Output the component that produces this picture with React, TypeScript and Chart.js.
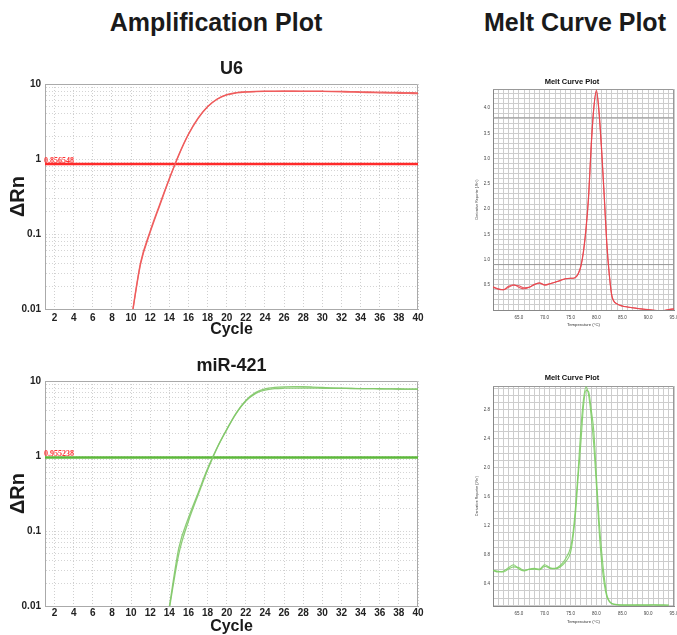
import React, { useEffect, useRef } from "react";
import { Chart, registerables } from "chart.js";

Chart.register(...registerables);

const SANS = "'Liberation Sans', Arial, Helvetica, sans-serif";

// ---------- Amplification plot data ----------
const cycles = [1, 2, 3, 4, 5, 6, 7, 8, 9, 10, 11, 12, 13, 14, 15, 16, 17, 18, 19, 20, 21, 22, 23, 24, 25, 26, 27, 28, 29, 30, 31, 32, 33, 34, 35, 36, 37, 38, 39, 40];
const ampXTicks = [2, 4, 6, 8, 10, 12, 14, 16, 18, 20, 22, 24, 26, 28, 30, 32, 34, 36, 38, 40];
const ampYLabels = [0.01, 0.1, 1, 10];

const u6RepA: (number | null)[] = [null, null, null, null, null, null, null, null, null,
  0.007, 0.042, 0.11, 0.25, 0.55, 1.15, 2.15, 3.5, 5.0, 6.3, 7.2, 7.65, 7.85, 7.95, 8.0, 8.02,
  8.03, 8.03, 8.03, 8.02, 8.0, 7.98, 7.95, 7.92, 7.87, 7.82, 7.78, 7.74, 7.7, 7.66, 7.62];
const u6RepB: (number | null)[] = [null, null, null, null, null, null, null, null, null,
  0.0068, 0.04, 0.105, 0.24, 0.54, 1.13, 2.12, 3.45, 4.95, 6.25, 7.15, 7.6, 7.82, 7.92, 7.97, 7.99,
  8.0, 8.0, 7.99, 7.98, 7.95, 7.91, 7.86, 7.8, 7.74, 7.68, 7.62, 7.57, 7.53, 7.49, 7.45];
const u6Threshold = 0.856548;

const mirRepA: (number | null)[] = [null, null, null, null, null, null, null, null, null, null, null, null, null,
  0.0098, 0.06, 0.15, 0.32, 0.68, 1.3, 2.25, 3.7, 5.4, 6.8, 7.55, 7.9, 8.02, 8.05, 8.05, 8.03,
  8.0, 7.98, 7.96, 7.94, 7.92, 7.9, 7.88, 7.85, 7.82, 7.8, 7.78];
const mirRepB: (number | null)[] = [null, null, null, null, null, null, null, null, null, null, null, null, null,
  0.0092, 0.05, 0.135, 0.3, 0.65, 1.28, 2.25, 3.75, 5.5, 7.0, 7.85, 8.2, 8.35, 8.4, 8.38, 8.3,
  8.2, 8.1, 8.02, 7.97, 7.93, 7.9, 7.88, 7.85, 7.82, 7.8, 7.78];
const mirThreshold = 0.955238;

// ---------- Melt curve data ----------
const meltTemps = [60, 61, 62, 63, 64, 65, 66, 67, 68, 69, 70, 71, 72, 73, 74, 75,
  75.5, 76, 76.5, 77, 77.5, 78, 78.5, 79, 79.5, 80, 80.5, 81, 81.5, 82, 82.5, 83,
  84, 85, 86, 87, 88, 89, 90, 91, 92, 93, 94, 95];
const meltXLabels = [65, 70, 75, 80, 85, 90, 95];

const meltU6A: (number | null)[] = [0.46, 0.42, 0.4, 0.45, 0.49, 0.48, 0.44, 0.45, 0.5, 0.54, 0.49, 0.52, 0.55, 0.58, 0.62, 0.63,
  0.63, 0.65, 0.72, 0.86, 1.15, 1.6, 2.25, 3.25, 4.0, 4.36, 3.95, 3.2, 2.3, 1.35, 0.7, 0.28,
  0.12, 0.08, 0.06, 0.045, 0.03, 0.02, 0.01, 0.0, -0.01, -0.01, 0.01, 0.02];
const meltU6B: (number | null)[] = [0.45, 0.41, 0.4, 0.47, 0.5, 0.45, 0.42, 0.45, 0.51, 0.53, 0.5, 0.52, 0.55, 0.59, 0.62, 0.63,
  0.63, 0.65, 0.73, 0.88, 1.18, 1.65, 2.3, 3.3, 4.02, 4.33, 3.9, 3.15, 2.25, 1.3, 0.68, 0.27,
  0.12, 0.08, 0.06, 0.045, 0.03, 0.015, 0.005, -0.01, -0.02, -0.01, 0.01, 0.02];
const meltU6YLabels = [0.5, 1.0, 1.5, 2.0, 2.5, 3.0, 3.5, 4.0];
const meltU6Guides = [0.9, 3.81];

const meltMirA: (number | null)[] = [0.584, 0.57, 0.56, 0.6, 0.63, 0.62, 0.585, 0.595, 0.6, 0.59, 0.64, 0.61, 0.605, 0.63, 0.7, 0.83,
  1.05, 1.4, 1.9, 2.35, 2.85, 3.07, 3.05, 2.8, 2.5, 1.88, 1.3, 0.85, 0.5, 0.25, 0.16, 0.125,
  0.11, 0.105, 0.105, 0.105, 0.106, 0.105, 0.105, 0.108, 0.105, 0.105, 0.104, null];
const meltMirB: (number | null)[] = [0.58, 0.56, 0.57, 0.62, 0.66, 0.6, 0.575, 0.6, 0.61, 0.6, 0.66, 0.62, 0.61, 0.65, 0.74, 0.9,
  1.12, 1.5, 2.0, 2.55, 2.95, 3.12, 3.0, 2.7, 2.3, 1.75, 1.15, 0.7, 0.4, 0.22, 0.15, 0.12,
  0.105, 0.1, 0.1, 0.1, 0.102, 0.1, 0.1, 0.103, 0.1, 0.1, 0.1, null];
const meltMirYLabels = [0.4, 0.8, 1.2, 1.6, 2.0, 2.4, 2.8];

// ---------- helpers ----------
function pts(xs: number[], ys: (number | null)[]) {
  return xs.map((x, i) => ({ x, y: ys[i] })).filter((p) => p.y !== null) as { x: number; y: number }[];
}
const near = (list: number[], v: number) => list.find((l) => Math.abs(l - v) < 1e-6);

type AmpSpec = {
  title: string;
  reps: (number | null)[][];
  curveColor: string;
  threshold: number;
  thresholdColor: string;
  tickPad: number;
};

function buildAmp(s: AmpSpec): any {
  const yGrid: number[] = [];
  for (let d = 0; d < ampYLabels.length - 1; d++) {
    for (let k = 1; k <= 9; k++) yGrid.push(ampYLabels[d] * k);
  }
  yGrid.push(ampYLabels[ampYLabels.length - 1]);
  const tickFont = { family: SANS, size: 10, weight: "bold" as const };
  const plugin = {
    id: "ampDecor",
    beforeDatasetsDraw(chart: any) {
      const { ctx, chartArea: a } = chart;
      ctx.save();
      ctx.strokeStyle = "#aaaaaa";
      ctx.lineWidth = 1;
      ctx.beginPath();
      ctx.moveTo(a.left, a.top + 0.5);
      ctx.lineTo(a.right - 0.5, a.top + 0.5);
      ctx.lineTo(a.right - 0.5, a.bottom);
      ctx.stroke();
      ctx.restore();
    },
    afterDatasetsDraw(chart: any) {
      const { ctx, chartArea: a, scales } = chart;
      const y = scales.y.getPixelForValue(s.threshold);
      ctx.save();
      ctx.font = "bold 8px 'Liberation Serif', 'Times New Roman', serif";
      ctx.fillStyle = "#ff3333";
      ctx.textAlign = "left";
      ctx.textBaseline = "alphabetic";
      ctx.fillText(String(s.threshold), a.left - 1, y - 1.5);
      ctx.restore();
    },
  };
  return {
    type: "scatter",
    data: {
      datasets: [
        ...s.reps.map((r) => ({
          data: pts(cycles, r),
          showLine: true,
          borderColor: s.curveColor,
          borderWidth: 1.3,
          pointRadius: 0,
          cubicInterpolationMode: "monotone",
        })),
        {
          data: [
            { x: cycles[0], y: s.threshold },
            { x: cycles[cycles.length - 1], y: s.threshold },
          ],
          showLine: true,
          borderColor: s.thresholdColor,
          borderWidth: 2.5,
          pointRadius: 0,
        },
      ],
    },
    options: {
      responsive: false,
      animation: false,
      events: [],
      layout: { padding: { left: 0, right: 12, top: 0, bottom: 0 } },
      plugins: {
        legend: { display: false },
        tooltip: { enabled: false },
        title: {
          display: true,
          text: s.title,
          fullSize: false,
          color: "#1a1a1a",
          font: { family: SANS, size: 18, weight: "bold", lineHeight: 1 },
          padding: { top: 10, bottom: 6 },
        },
      },
      scales: {
        x: {
          type: "linear",
          min: cycles[0],
          max: cycles[cycles.length - 1],
          afterBuildTicks: (sc: any) => {
            sc.ticks = ampXTicks.map((v) => ({ value: v }));
          },
          ticks: {
            autoSkip: false,
            maxRotation: 0,
            padding: s.tickPad,
            color: "#222",
            font: tickFont,
            callback: (v: any) => String(v),
          },
          grid: { color: "#cfcfcf", drawTicks: false, lineWidth: 1 },
          border: { color: "#aaaaaa", dash: [1, 2] },
          title: {
            display: true,
            text: "Cycle",
            color: "#1a1a1a",
            font: { family: SANS, size: 16, weight: "bold", lineHeight: 1 },
            padding: { top: 0, bottom: 7 },
          },
          afterFit: (sc: any) => {
            sc.height = 36;
            sc.paddingLeft = 0;
            sc.paddingRight = 0;
          },
        },
        y: {
          type: "logarithmic",
          min: ampYLabels[0],
          max: ampYLabels[ampYLabels.length - 1],
          afterBuildTicks: (sc: any) => {
            sc.ticks = yGrid.map((v) => ({ value: v }));
          },
          ticks: {
            autoSkip: false,
            padding: 4,
            color: "#222",
            font: tickFont,
            callback: (v: any) => {
              const m = near(ampYLabels, Number(v));
              return m === undefined ? "" : String(m);
            },
          },
          grid: { color: "#d4d4d4", drawTicks: false, lineWidth: 1 },
          border: { color: "#aaaaaa", dash: [1, 2] },
          title: {
            display: true,
            text: "\u0394Rn",
            color: "#1a1a1a",
            font: { family: SANS, size: 20, weight: "bold", lineHeight: 1 },
            padding: { top: 8.5, bottom: 0 },
          },
          afterFit: (sc: any) => {
            sc.width = 45;
            sc.paddingTop = 0;
            sc.paddingBottom = 0;
          },
        },
      },
    },
    plugins: [plugin],
  };
}

type MeltSpec = {
  reps: (number | null)[][];
  color: string;
  yMin: number;
  yMax: number;
  yLabels: number[];
  guides: number[];
  titlePadTop: number;
  titlePadBottom: number;
  xHeight: number;
  xTitlePadBottom: number;
};

function buildMelt(s: MeltSpec): any {
  const tx = meltTemps[0];
  const txEnd = meltTemps[meltTemps.length - 1];
  const xGrid: number[] = [];
  for (let t = tx; t <= txEnd; t++) xGrid.push(t);
  const yGrid: number[] = [];
  for (let i = Math.ceil(s.yMin * 10 - 1e-9); i / 10 <= s.yMax; i++) yGrid.push(i / 10);
  const small = { family: SANS, size: 4.5 };
  const plugin = {
    id: "meltFrame",
    beforeDatasetsDraw(chart: any) {
      const { ctx, chartArea: a } = chart;
      ctx.save();
      ctx.strokeStyle = "#999999";
      ctx.lineWidth = 1;
      ctx.beginPath();
      ctx.moveTo(a.left, a.top + 0.5);
      ctx.lineTo(a.right - 0.5, a.top + 0.5);
      ctx.lineTo(a.right - 0.5, a.bottom);
      ctx.stroke();
      ctx.restore();
    },
  };
  return {
    type: "scatter",
    data: {
      datasets: [
        ...s.reps.map((r) => ({
          data: pts(meltTemps, r),
          showLine: true,
          borderColor: s.color,
          borderWidth: 1.1,
          pointRadius: 0,
          cubicInterpolationMode: "monotone",
        })),
        ...s.guides.map((g) => ({
          data: [
            { x: tx, y: g },
            { x: txEnd, y: g },
          ],
          showLine: true,
          borderColor: "#9a9a9a",
          borderWidth: 1,
          pointRadius: 0,
        })),
      ],
    },
    options: {
      responsive: false,
      animation: false,
      events: [],
      layout: { padding: { left: 0, right: 3, top: 0, bottom: 0 } },
      plugins: {
        legend: { display: false },
        tooltip: { enabled: false },
        title: {
          display: true,
          text: "Melt Curve Plot",
          color: "#111",
          font: { family: SANS, size: 7.5, weight: "bold", lineHeight: 1 },
          padding: { top: s.titlePadTop, bottom: s.titlePadBottom },
        },
      },
      scales: {
        x: {
          type: "linear",
          min: tx,
          max: txEnd,
          afterBuildTicks: (sc: any) => {
            sc.ticks = xGrid.map((v) => ({ value: v }));
          },
          ticks: {
            autoSkip: false,
            maxRotation: 0,
            padding: 4.6,
            color: "#444",
            font: small,
            callback: (v: any) => {
              const m = near(meltXLabels, Number(v));
              return m === undefined ? "" : m.toFixed(1);
            },
          },
          grid: { color: "#cdcdcd", drawTicks: false, lineWidth: 1 },
          border: { color: "#888888" },
          title: {
            display: true,
            text: "Temperature (\u00B0C)",
            color: "#333",
            font: { family: SANS, size: 4.3, lineHeight: 1 },
            padding: { top: 0, bottom: s.xTitlePadBottom },
          },
          afterFit: (sc: any) => {
            sc.height = s.xHeight;
            sc.paddingLeft = 0;
            sc.paddingRight = 0;
          },
        },
        y: {
          type: "linear",
          min: s.yMin,
          max: s.yMax,
          afterBuildTicks: (sc: any) => {
            sc.ticks = yGrid.map((v) => ({ value: v }));
          },
          ticks: {
            autoSkip: false,
            padding: 3,
            color: "#444",
            font: small,
            callback: (v: any) => {
              const m = near(s.yLabels, Number(v));
              return m === undefined ? "" : m.toFixed(1);
            },
          },
          grid: { color: "#cdcdcd", drawTicks: false, lineWidth: 1 },
          border: { color: "#888888" },
          title: {
            display: true,
            text: "Derivative Reporter (-Rn')",
            color: "#333",
            font: { family: SANS, size: 3.5, lineHeight: 1 },
            padding: { top: 5.2, bottom: 0 },
          },
          afterFit: (sc: any) => {
            sc.width = 23;
            sc.paddingTop = 0;
            sc.paddingBottom = 0;
          },
        },
      },
    },
    plugins: [plugin],
  };
}

function ChartBox(props: { left: number; top: number; width: number; height: number; build: () => any }) {
  const ref = useRef<HTMLCanvasElement | null>(null);
  useEffect(() => {
    if (!ref.current) return;
    const chart = new Chart(ref.current, props.build());
    return () => chart.destroy();
  }, []);
  return (
    <canvas
      ref={ref}
      width={props.width}
      height={props.height}
      style={{ position: "absolute", left: props.left, top: props.top, width: props.width, height: props.height }}
    />
  );
}

const headerStyle: React.CSSProperties = {
  position: "absolute",
  top: 10,
  width: 300,
  textAlign: "center",
  fontFamily: SANS,
  fontWeight: "bold",
  fontSize: 25,
  lineHeight: "25px",
  color: "#1a1a1a",
  whiteSpace: "nowrap",
};

export default function App() {
  return (
    <div
      style={{
        position: "absolute",
        left: 0,
        top: 0,
        width: 677,
        height: 635,
        overflow: "hidden",
        background: "#ffffff",
      }}
    >
      <div style={{ ...headerStyle, left: 216 - 150 }}>Amplification Plot</div>
      <div style={{ ...headerStyle, left: 575 - 150 }}>Melt Curve Plot</div>

      <ChartBox
        left={0}
        top={50}
        width={430}
        height={295}
        build={() =>
          buildAmp({
            title: "U6",
            reps: [u6RepA, u6RepB],
            curveColor: "rgba(238, 90, 90, 0.9)",
            threshold: u6Threshold,
            thresholdColor: "#ff2a2a",
            tickPad: 3,
          })
        }
      />
      <ChartBox
        left={0}
        top={347}
        width={430}
        height={295}
        build={() =>
          buildAmp({
            title: "miR-421",
            reps: [mirRepA, mirRepB],
            curveColor: "rgba(130, 200, 105, 0.9)",
            threshold: mirThreshold,
            thresholdColor: "#5cb83a",
            tickPad: 1.5,
          })
        }
      />
      <ChartBox
        left={470}
        top={70}
        width={207}
        height={265}
        build={() =>
          buildMelt({
            reps: [meltU6A, meltU6B],
            color: "rgba(232, 70, 78, 0.9)",
            yMin: 0,
            yMax: 4.38,
            yLabels: meltU6YLabels,
            guides: meltU6Guides,
            titlePadTop: 8,
            titlePadBottom: 3.5,
            xHeight: 25,
            xTitlePadBottom: 7.8,
          })
        }
      />
      <ChartBox
        left={470}
        top={365}
        width={207}
        height={265}
        build={() =>
          buildMelt({
            reps: [meltMirA, meltMirB],
            color: "rgba(125, 205, 100, 0.9)",
            yMin: 0.09,
            yMax: 3.13,
            yLabels: meltMirYLabels,
            guides: [],
            titlePadTop: 9,
            titlePadBottom: 4.5,
            xHeight: 24,
            xTitlePadBottom: 5.8,
          })
        }
      />
    </div>
  );
}
